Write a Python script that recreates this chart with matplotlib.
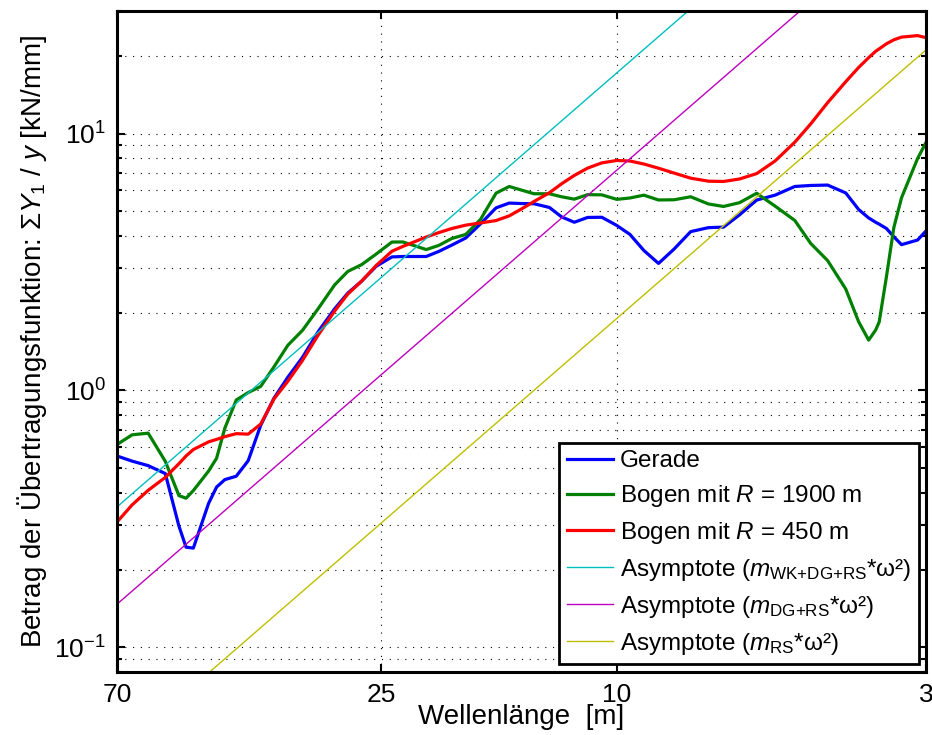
import matplotlib
matplotlib.use('Agg')
import matplotlib.pyplot as plt
from matplotlib.ticker import FixedLocator, FixedFormatter, NullLocator, LogLocator

# ---- data ----
wavelength = [70, 66, 62, 58, 55, 53.5, 52, 49, 47.5, 46, 44, 42, 40, 38, 36, 34, 32, 30, 28.5, 27,
              25.5, 24, 23, 22, 21, 20, 19, 18, 17, 16, 15.2, 14.5, 13.8, 13, 12.4, 11.8, 11.2, 10.6, 10, 9.5,
              9, 8.5, 8, 7.5, 7, 6.6, 6.2, 5.8, 5.4, 5, 4.7, 4.4, 4.1, 3.9, 3.75, 3.65, 3.6, 3.5, 3.4, 3.3,
              3.1, 3.0]

gerade = [0.555, 0.530, 0.509, 0.474, 0.296, 0.245, 0.243, 0.363, 0.420, 0.449, 0.463, 0.532, 0.731, 0.931,
          1.124, 1.344, 1.689, 2.076, 2.391, 2.663, 3.045, 3.307, 3.32, 3.32, 3.32, 3.474, 3.679, 3.921,
          4.448, 5.135, 5.36, 5.337, 5.328, 5.153, 4.737, 4.513, 4.712, 4.72, 4.386, 4.046, 3.505, 3.12,
          3.549, 4.149, 4.3, 4.319, 4.823, 5.507, 5.754, 6.22, 6.277, 6.299, 5.869, 5.062, 4.69, 4.513,
          4.437, 4.269, 3.961, 3.692, 3.848, 4.175]

bogen_1900 = [0.615, 0.671, 0.681, 0.529, 0.389, 0.380, 0.407, 0.485, 0.544, 0.712, 0.917, 0.980, 1.036,
              1.233, 1.497, 1.712, 2.076, 2.573, 2.904, 3.087, 3.398, 3.779, 3.782, 3.659, 3.533, 3.666,
              3.903, 4.046, 4.628, 5.858, 6.22, 6.023, 5.827, 5.827, 5.672, 5.552, 5.78, 5.77, 5.542, 5.61,
              5.754, 5.511, 5.521, 5.672, 5.317, 5.2, 5.379, 5.853, 5.218, 4.586, 3.733, 3.2, 2.479, 1.85,
              1.569, 1.717, 1.844, 2.765, 4.307, 5.62, 7.993, 9.226]

bogen_450 = [0.307, 0.358, 0.408, 0.458, 0.518, 0.555, 0.588, 0.630, 0.644, 0.660, 0.678, 0.675, 0.739,
             0.925, 1.084, 1.307, 1.638, 2.035, 2.37, 2.663, 3.067, 3.48, 3.634, 3.786, 3.953, 4.112, 4.269,
             4.398, 4.485, 4.582, 4.78, 5.08, 5.438, 5.88, 6.37, 6.866, 7.336, 7.686, 7.853, 7.816, 7.608,
             7.328, 7.014, 6.701, 6.523, 6.505, 6.653, 6.982, 7.816, 9.25, 10.9, 13.19, 15.92, 18.08, 19.75,
             20.9, 21.36, 22.36, 23.17, 23.74, 24.06, 23.63]

# asymptote coefficients C in Y = C / lambda^2  (m * omega^2)
asym_wk_dg_rs = 1722.0
asym_dg_rs = 720.0
asym_rs = 190.5
asym_range = [70, 3]

x_ticks = [70, 25, 10, 3]
x_ticklabels = ['70', '25', '10', '3']

# ---- style ----
plt.rcParams['font.family'] = ['Liberation Sans', 'DejaVu Sans']
plt.rcParams['mathtext.fontset'] = 'custom'
plt.rcParams['mathtext.rm'] = 'Liberation Sans'
plt.rcParams['mathtext.it'] = 'Liberation Sans:italic'
plt.rcParams['mathtext.bf'] = 'Liberation Sans:bold'
plt.rcParams['mathtext.sf'] = 'Liberation Sans'

fig = plt.figure(figsize=(9.32, 7.35), dpi=100)
ax = fig.add_axes([117 / 932, 63 / 735, 809 / 932, 661 / 735])

ax.plot(wavelength, gerade, color='#0000ff', lw=2.3, label='Gerade', solid_joinstyle='round')
ax.plot(wavelength, bogen_1900, color='#008000', lw=2.3, label='Bogen mit $R$ = 1900 m', solid_joinstyle='round')
ax.plot(wavelength, bogen_450, color='#ff0000', lw=2.3, label='Bogen mit $R$ = 450 m', solid_joinstyle='round')
ax.plot(asym_range, [asym_wk_dg_rs / l ** 2 for l in asym_range], color='#00bfbf', lw=1.0,
        label=r'Asymptote ($m_{\mathrm{WK{+}DG{+}RS}}$*ω²)')
ax.plot(asym_range, [asym_dg_rs / l ** 2 for l in asym_range], color='#bf00bf', lw=1.0,
        label=r'Asymptote ($m_{\mathrm{DG{+}RS}}$*ω²)')
ax.plot(asym_range, [asym_rs / l ** 2 for l in asym_range], color='#bfbf00', lw=1.0,
        label=r'Asymptote ($m_{\mathrm{RS}}$*ω²)')

ax.set_xscale('log')
ax.set_yscale('log')
ax.set_xlim(70, 3)
ax.set_ylim(0.08, 30)

ax.xaxis.set_major_locator(FixedLocator(x_ticks))
ax.xaxis.set_major_formatter(FixedFormatter(x_ticklabels))
ax.xaxis.set_minor_locator(NullLocator())
ax.yaxis.set_major_locator(LogLocator(base=10, numticks=10))
ax.yaxis.set_minor_locator(LogLocator(base=10, subs=[2, 3, 4, 5, 6, 7, 8, 9], numticks=20))

ax.tick_params(which='both', direction='in', top=True, right=True, width=1.5)
ax.tick_params(which='major', length=6, labelsize=19, pad=8)
ax.tick_params(which='minor', length=3.5)

for s in ax.spines.values():
    s.set_linewidth(2.2)

grid_kw = dict(color='black', linestyle=(0, (1, 6)), linewidth=0.8)
ax.grid(True, which='major', axis='both', **grid_kw)
ax.grid(True, which='minor', axis='y', **grid_kw)

ax.set_xlabel('Wellenlänge  [m]', fontsize=20, labelpad=-2)
ax.set_ylabel(r'Betrag der Übertragungsfunktion: Σ$\mathit{Y}_1$ / $\mathit{y}$ [kN/mm]', fontsize=20, labelpad=4)

leg = ax.legend(loc='lower right', bbox_to_anchor=(0.991, 0.012), borderaxespad=0, fontsize=17.5,
                fancybox=False, framealpha=1, edgecolor='black', handlelength=1.9, handletextpad=0.3,
                labelspacing=0.45, borderpad=0.3)
leg.get_frame().set_linewidth(2.0)

fig.savefig('out.png', dpi=100)
